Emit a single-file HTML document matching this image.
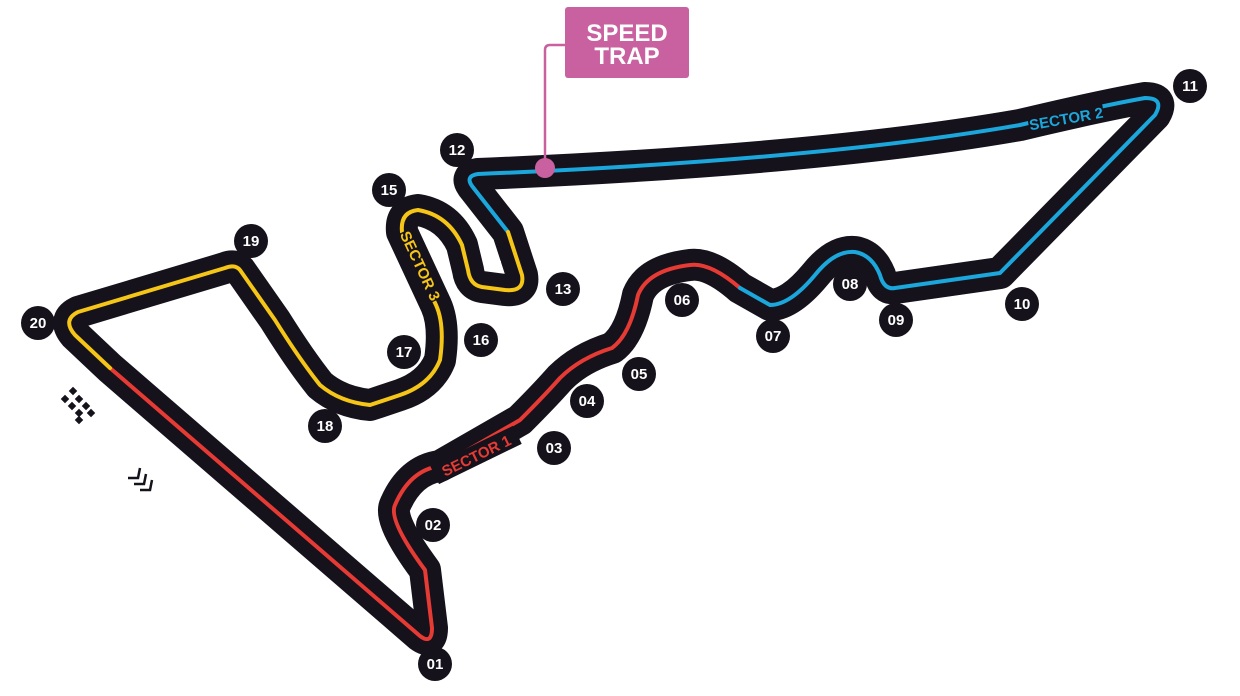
<!DOCTYPE html>
<html><head><meta charset="utf-8"><style>
html,body{margin:0;padding:0;background:#fff;width:1240px;height:696px;overflow:hidden}
text{font-family:"Liberation Sans",sans-serif;font-weight:bold}
</style></head><body>
<svg width="1240" height="696" viewBox="0 0 1240 696" xmlns="http://www.w3.org/2000/svg">
<g fill="none" stroke-linecap="round" stroke-linejoin="round">
<path d="M110,368 L420,636 Q432,645 432,628 L425,570 Q388,520 395,505 Q410,470 440,466 L520,420 Q545,395 560,378 Q580,358 612,348 Q630,335 638,295 Q648,270 690,265 Q710,262 740,288 L770,305 Q790,305 815,275 Q835,250 855,252 Q872,255 880,275 Q884,290 895,288 L1000,273 L1155,115 Q1165,98 1145,98 Q1100,106 1020,125 Q820,160 478,174 Q465,176 472,186 L508,232 L522,275 Q525,292 505,290 L482,287 Q470,285 468,270 L462,245 Q448,215 418,210 Q400,212 402,232 L436,305 Q445,325 440,360 Q430,385 400,395 L370,405 Q340,402 320,385 Q300,360 275,320 L240,270 Q235,264 225,268 L78,312 Q62,320 75,335 L110,368" stroke="#15121b" stroke-width="32"/>
<path d="M110,368 L420,636 Q432,645 432,628 L425,570 Q388,520 395,505 Q410,470 440,466 L520,420 Q545,395 560,378 Q580,358 612,348 Q630,335 638,295 Q648,270 690,265 Q710,262 740,288" stroke="#e63a35" stroke-width="4"/>
<path d="M740,288 L770,305 Q790,305 815,275 Q835,250 855,252 Q872,255 880,275 Q884,290 895,288 L1000,273 L1155,115 Q1165,98 1145,98 Q1100,106 1020,125 Q820,160 478,174 Q465,176 472,186 L508,232" stroke="#1ba7dc" stroke-width="4"/>
<path d="M508,232 L522,275 Q525,292 505,290 L482,287 Q470,285 468,270 L462,245 Q448,215 418,210 Q400,212 402,232 L436,305 Q445,325 440,360 Q430,385 400,395 L370,405 Q340,402 320,385 Q300,360 275,320 L240,270 Q235,264 225,268 L78,312 Q62,320 75,335 L110,368" stroke="#f5c518" stroke-width="4"/>
</g>
<g transform="translate(1066,118) rotate(-10)"><rect x="-38" y="-10" width="76" height="20" fill="#15121b"/><text x="0" y="6" font-size="15" fill="#1ba7dc" text-anchor="middle">SECTOR 2</text></g>
<g transform="translate(476,455) rotate(-26)"><rect x="-46" y="-10" width="92" height="20" fill="#15121b"/><text x="0" y="6" font-size="15" fill="#e63a35" text-anchor="middle">SECTOR 1</text></g>
<g transform="translate(420,266) rotate(65)"><rect x="-38" y="-9" width="76" height="18" fill="#15121b"/><text x="0" y="5" font-size="15" fill="#f5c518" text-anchor="middle">SECTOR 3</text></g>
<path d="M545,168 L545,50 Q545,45 550,45 L566,45" stroke="#c9609f" stroke-width="2.5" fill="none"/>
<circle cx="545" cy="168" r="10" fill="#c9609f"/>
<rect x="565" y="7" width="124" height="71" rx="3" fill="#c9609f"/>
<text x="627" y="41" font-size="24" fill="#fff" text-anchor="middle">SPEED</text>
<text x="627" y="64" font-size="24" fill="#fff" text-anchor="middle">TRAP</text>
<g font-size="15" fill="#fff" text-anchor="middle">
<g fill="#15121b">
<circle cx="435" cy="664" r="17"/><circle cx="433" cy="525" r="17"/><circle cx="554" cy="448" r="17"/><circle cx="587" cy="401" r="17"/><circle cx="639" cy="374" r="17"/><circle cx="682" cy="300" r="17"/><circle cx="773" cy="336" r="17"/><circle cx="850" cy="284" r="17"/><circle cx="896" cy="320" r="17"/><circle cx="1022" cy="304" r="17"/><circle cx="1190" cy="86" r="17"/><circle cx="457" cy="150" r="17"/><circle cx="563" cy="289" r="17"/><circle cx="389" cy="190" r="17"/><circle cx="481" cy="340" r="17"/><circle cx="404" cy="352" r="17"/><circle cx="325" cy="426" r="17"/><circle cx="251" cy="241" r="17"/><circle cx="38" cy="323" r="17"/>
</g>
<text x="435" y="669">01</text><text x="433" y="530">02</text><text x="554" y="453">03</text><text x="587" y="406">04</text><text x="639" y="379">05</text><text x="682" y="305">06</text><text x="773" y="341">07</text><text x="850" y="289">08</text><text x="896" y="325">09</text><text x="1022" y="309">10</text><text x="1190" y="91">11</text><text x="457" y="155">12</text><text x="563" y="294">13</text><text x="494" y="271">14</text><text x="389" y="195">15</text><text x="481" y="345">16</text><text x="404" y="357">17</text><text x="325" y="431">18</text><text x="251" y="246">19</text><text x="38" y="328">20</text>
</g>
<g fill="#15121b">
<rect x="70" y="388" width="6" height="6" transform="rotate(45 73 391)"/>
<rect x="62" y="396" width="6" height="6" transform="rotate(45 65 399)"/>
<rect x="76" y="396" width="6" height="6" transform="rotate(45 79 399)"/>
<rect x="69" y="403" width="6" height="6" transform="rotate(45 72 406)"/>
<rect x="83" y="403" width="6" height="6" transform="rotate(45 86 406)"/>
<rect x="76" y="410" width="6" height="6" transform="rotate(45 79 413)"/>
<rect x="88" y="410" width="6" height="6" transform="rotate(45 91 413)"/>
<rect x="76" y="417" width="6" height="6" transform="rotate(45 79 420)"/>
</g>
<g stroke="#15121b" stroke-width="2.5" fill="none">
<path d="M128,478 L138,478 L140,468"/><path d="M134,484 L144,484 L146,474"/><path d="M140,490 L150,490 L152,480"/>
</g>
</svg>
</body></html>
